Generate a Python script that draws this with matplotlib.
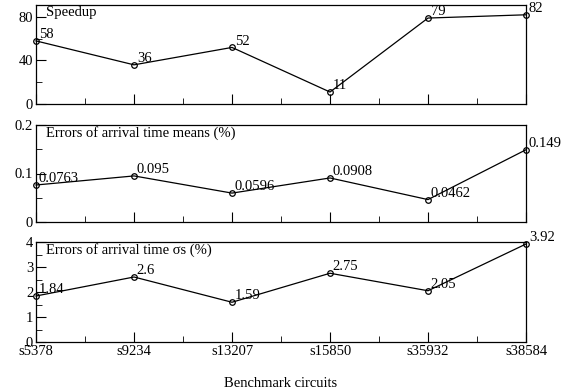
import matplotlib
matplotlib.use("Agg")
import matplotlib.pyplot as plt
from matplotlib.ticker import MultipleLocator

plt.rcParams['font.family'] = ['Liberation Serif', 'DejaVu Serif']

circuits = ["s5378", "s9234", "s13207", "s15850", "s35932", "s38584"]
speedup = [58, 36, 52, 11, 79, 82]
speedup_lbl = ["58", "36", "52", "11", "79", "82"]
mean_err = [0.0763, 0.095, 0.0596, 0.0908, 0.0462, 0.149]
mean_lbl = ["0.0763", "0.095", "0.0596", "0.0908", "0.0462", "0.149"]
sigma_err = [1.84, 2.6, 1.59, 2.75, 2.05, 3.92]
sigma_lbl = ["1.84", "2.6", "1.59", "2.75", "2.05", "3.92"]

fig = plt.figure(figsize=(5.64, 3.9), dpi=100)
L, R = 36/564, 526/564
ax1 = fig.add_axes([L, 1-104/390, R-L, 99/390])
ax2 = fig.add_axes([L, 1-222/390, R-L, 97/390])
ax3 = fig.add_axes([L, 1-342/390, R-L, 100/390])

x = list(range(len(circuits)))
specs = [
    (ax1, speedup, speedup_lbl, (0, 91), [0, 40, 80], ["0", "40", "80"], 20, "Speedup"),
    (ax2, mean_err, mean_lbl, (0, 0.2), [0, 0.1, 0.2], ["0", "0.1", "0.2"], 0.05, "Errors of arrival time means (%)"),
    (ax3, sigma_err, sigma_lbl, (0, 4), [0, 1, 2, 3, 4], ["0", "1", "2", "3", "4"], 0.5, "Errors of arrival time \u03c3s (%)"),
]
for ax, vals, lbls, ylim, yt, ytl, mnr, title in specs:
    ax.plot(x, vals, color='black', lw=0.9, marker='o', ms=4, mfc='none', mec='black', mew=0.9, clip_on=False)
    for xi, v, t in zip(x, vals, lbls):
        ax.annotate(t, (xi, v), xytext=(2, 2), textcoords='offset points', fontsize=10.5)
    ax.set_xlim(0, len(circuits)-1)
    ax.set_ylim(*ylim)
    ax.set_yticks(yt)
    ax.set_yticklabels(ytl)
    ax.yaxis.set_minor_locator(MultipleLocator(mnr))
    ax.set_xticks(x)
    ax.xaxis.set_minor_locator(MultipleLocator(0.5))
    ax.tick_params(which='both', direction='in', top=False, right=False, labelsize=10.5, pad=2)
    ax.tick_params(which='major', length=7)
    ax.tick_params(which='minor', length=4)
    ax.text(0.02, 0.99, title, transform=ax.transAxes, fontsize=10.5, va='top', ha='left')
    for s in ax.spines.values():
        s.set_linewidth(0.9)

ax1.set_xticklabels([])
ax2.set_xticklabels([])
ax3.set_xticklabels(circuits)
ax3.set_xlabel("Benchmark circuits", fontsize=10.5, labelpad=14)

fig.savefig("out.png", dpi=100)
